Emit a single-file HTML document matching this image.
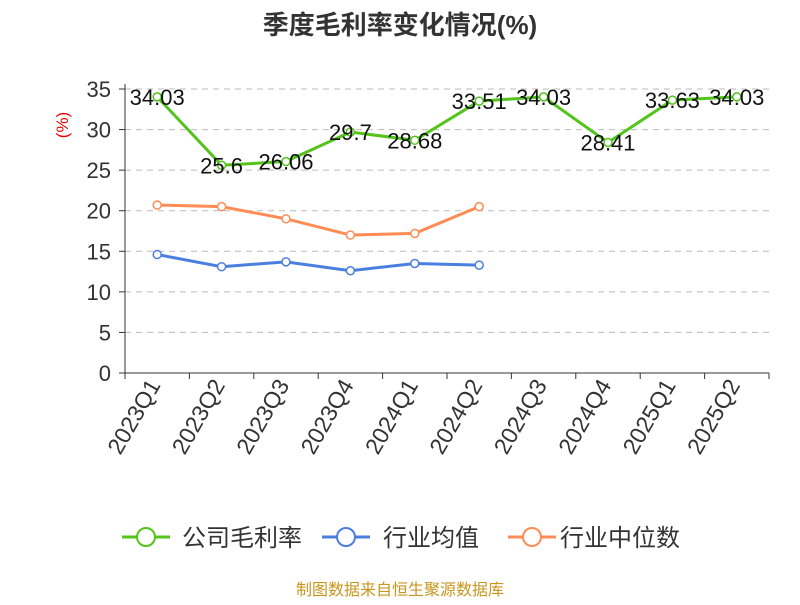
<!DOCTYPE html>
<html><head><meta charset="utf-8"><style>
body{margin:0;background:#fff;}
svg text{font-family:"Liberation Sans","Noto Sans CJK SC",sans-serif;}
</style></head><body>
<svg id="c" width="800" height="600" xmlns="http://www.w3.org/2000/svg">
<text x="400" y="34" text-anchor="middle" font-size="26" font-weight="bold" fill="#333">季度毛利率变化情况(%)</text>
<text transform="translate(68,125) rotate(-90)" text-anchor="middle" font-size="17" fill="#e00">(%)</text>
<g id="grid"></g><g id="axes"></g><g id="series"></g>
<g>
<g><line x1="122" y1="537" x2="170" y2="537" stroke="#52c41a" stroke-width="3"/><circle cx="146" cy="537" r="9" fill="#fff" stroke="#52c41a" stroke-width="2"/><text x="182" y="546" font-size="24" fill="#333">公司毛利率</text></g>
<g><line x1="322" y1="537" x2="370" y2="537" stroke="#4a7fe0" stroke-width="3"/><circle cx="346" cy="537" r="9" fill="#fff" stroke="#4a7fe0" stroke-width="2"/><text x="383" y="546" font-size="24" fill="#333">行业均值</text></g>
<g><line x1="508" y1="537" x2="556" y2="537" stroke="#ff8c55" stroke-width="3"/><circle cx="532" cy="537" r="9" fill="#fff" stroke="#ff8c55" stroke-width="2"/><text x="560" y="546" font-size="24" fill="#333">行业中位数</text></g>
</g>
<text x="400" y="595" text-anchor="middle" font-size="16" fill="#c8961e">制图数据来自恒生聚源数据库</text>
</svg>
<script>
const categories=["2023Q1","2023Q2","2023Q3","2023Q4","2024Q1","2024Q2","2024Q3","2024Q4","2025Q1","2025Q2"];
const companyValues=[34.03,25.6,26.06,29.7,28.68,33.51,34.03,28.41,33.63,34.03];
const industryAvg=[14.6,13.1,13.7,12.6,13.5,13.3];
const industryMedian=[20.7,20.5,19.0,17.0,17.2,20.5];
const yTicks=[0,5,10,15,20,25,30,35];
const NS="http://www.w3.org/2000/svg";
const x0=125,x1=769,y0=373,yTop=89,yMax=35;
const bw=(x1-x0)/categories.length;
const X=i=>x0+bw*(i+0.5);
const Y=v=>y0-(v/yMax)*(y0-yTop);
function mk(tag,attrs,parent){const e=document.createElementNS(NS,tag);for(const k in attrs)e.setAttribute(k,attrs[k]);parent.appendChild(e);return e;}
const grid=document.getElementById('grid'),axes=document.getElementById('axes'),ser=document.getElementById('series');
yTicks.forEach(t=>{
 if(t>0){const g=mk('line',{x1:x0,x2:x1,y1:Y(t),y2:Y(t),stroke:'#bbb','stroke-dasharray':'6,5'},grid);
 
 }
 const tk=mk('line',{x1:x0-6,x2:x0,y1:Y(t),y2:Y(t),stroke:'#333'},axes);
 
 
 const tl=mk('text',{x:x0-14,y:Y(t)+8,'text-anchor':'end','font-size':'22',fill:'#333'},axes);
 tl.textContent=t;
 
 
});
const ya=mk('line',{x1:x0,x2:x0,y1:yTop-5,y2:y0,stroke:'#333'},axes);


const xa=mk('line',{x1:x0,x2:x1,y1:y0,y2:y0,stroke:'#333'},axes);


for(let i=0;i<=categories.length;i++){const t=mk('line',{x1:x0+bw*i,x2:x0+bw*i,y1:y0,y2:y0+6,stroke:'#333'},axes);
 
 }
categories.forEach((c,i)=>{const t=mk('text',{transform:`translate(${X(i)+4},${y0+12}) rotate(-60)`,'text-anchor':'end','font-size':'23',fill:'#333'},axes);
 t.textContent=c;
 
 });
function series(vals,color,name,labels){
 const g=mk('g',{},ser);
 
 
 const pl=mk('polyline',{points:vals.map((v,i)=>X(i)+','+Y(v)).join(' '),fill:'none',stroke:color,'stroke-width':3},g);
 
 
 vals.forEach((v,i)=>{const c=mk('circle',{cx:X(i),cy:Y(v),r:4,fill:'#fff',stroke:color,'stroke-width':1.5},g);
  
  
  if(labels){const t=mk('text',{x:X(i),y:Y(v)+8,'text-anchor':'middle','font-size':'22',fill:'#111'},g);
   t.textContent=v;
   
   }
 });
}
series(industryMedian,'#ff8c55','industry-median-series',false);
series(industryAvg,'#4a7fe0','industry-avg-series',false);
series(companyValues,'#52c41a','company-series',true);
</script>
</body></html>
